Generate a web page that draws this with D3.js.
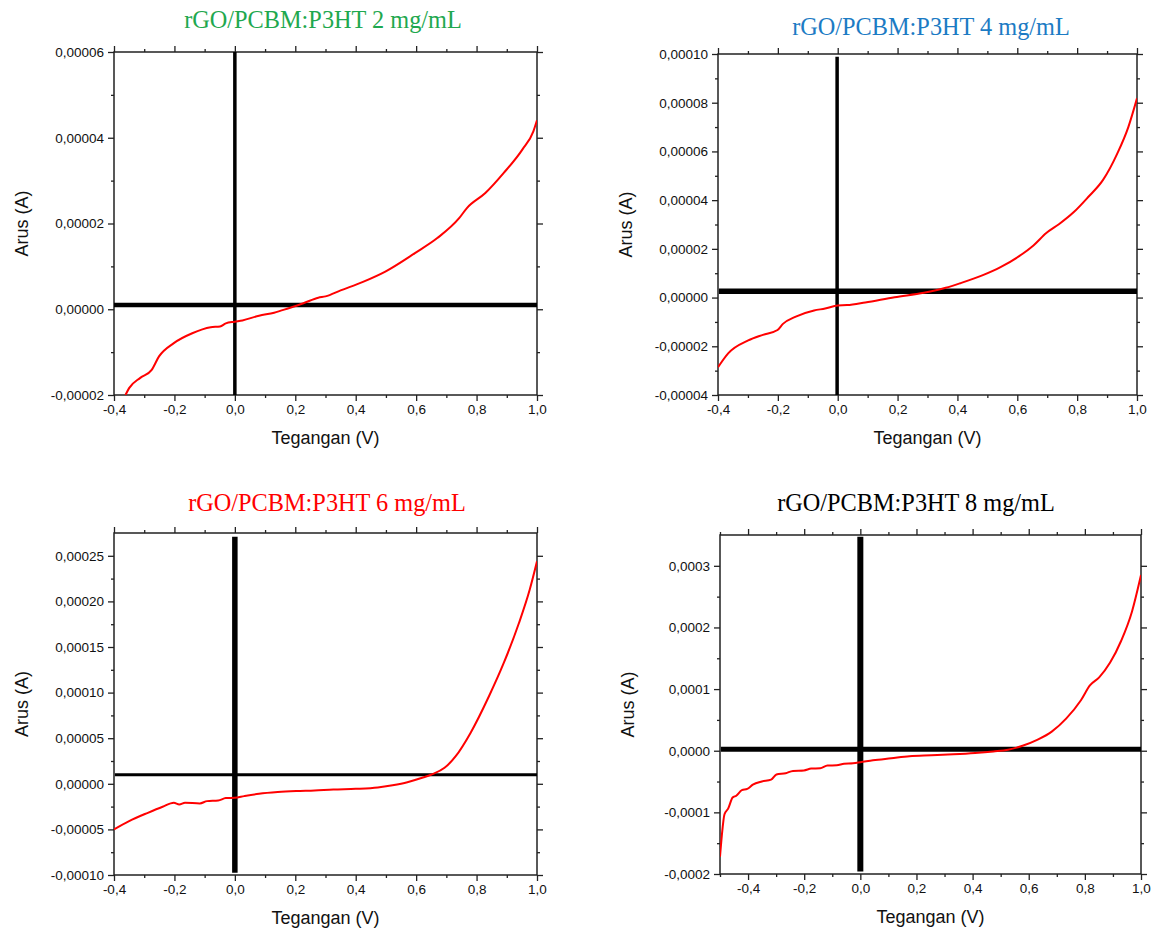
<!DOCTYPE html>
<html>
<head>
<meta charset="utf-8">
<script src="https://cdn.jsdelivr.net/npm/d3@7"></script>
<style>
  body { margin: 0; background: #fff; }
  svg { display: block; }
</style>
</head>
<body>
<svg id="chart" width="1153" height="932"></svg>
<script>
// current values are read in microampere, voltage in volt
const v2 = [-0.362,-0.35,-0.313,-0.276,-0.251,-0.202,-0.141,-0.08,-0.049,-0.03,0,0.025,0.08,0.13,0.178,0.227,0.276,0.3,0.35,0.424,0.498,0.596,0.67,0.743,0.768,0.829,0.89,0.952,0.988,1.0];
const i2 = [-20,-18.4,-16,-14.2,-11,-7.9,-5.6,-4.2,-4.0,-3.3,-2.9,-2.6,-1.5,-0.8,0.25,1.4,2.7,3.0,4.4,6.4,8.8,13.1,16.6,21.3,23.6,27.1,31.8,37.3,41.5,44.1];

const v4 = [-0.4,-0.366,-0.299,-0.25,-0.201,-0.183,-0.14,-0.079,-0.042,0,0.031,0.092,0.19,0.288,0.361,0.41,0.483,0.544,0.605,0.654,0.697,0.739,0.788,0.837,0.886,0.934,0.971,1.0];
const i4 = [-28.6,-22.9,-17.6,-15.3,-13.3,-10.8,-7.8,-5.3,-4.5,-3.25,-3.1,-2.0,0.17,1.96,4.0,5.9,9.1,12.5,16.9,21.4,26.5,30.1,35,41.3,48.2,59.1,70,81.8];

const v6 = [-0.4,-0.35,-0.288,-0.239,-0.202,-0.184,-0.165,-0.116,-0.092,-0.055,-0.03,0,0.031,0.08,0.142,0.203,0.264,0.326,0.4,0.473,0.522,0.571,0.62,0.651,0.694,0.731,0.78,0.841,0.89,0.94,0.976,1.0];
const i6 = [-50,-40.9,-31.8,-25.2,-20.8,-22.6,-20.8,-21.5,-19,-18.3,-15.7,-15.3,-13.5,-11,-9.1,-8,-7.3,-6.2,-5.5,-4,-1.5,1.8,6.6,10.2,17.5,30.3,55.8,96,132.5,176,213,244];

const v8 = [-0.5,-0.4935,-0.484,-0.471,-0.455,-0.442,-0.422,-0.403,-0.383,-0.351,-0.318,-0.299,-0.266,-0.24,-0.201,-0.175,-0.143,-0.117,-0.084,-0.058,-0.026,0,0.045,0.11,0.175,0.253,0.331,0.409,0.474,0.526,0.578,0.63,0.682,0.734,0.786,0.818,0.851,0.89,0.929,0.968,1.0];
const i8 = [-172,-137.6,-103,-94,-76,-73,-64,-62,-55,-50,-47,-38.5,-36.4,-32.7,-32,-29,-28.4,-24,-23.6,-21,-20.3,-18.7,-15.5,-12.3,-9.1,-7.5,-5.9,-3.7,-1.1,1.6,8,17.7,31,52.5,82,106,119,143,178,226,285];

const titles = ["rGO/PCBM:P3HT 2 mg/mL", "rGO/PCBM:P3HT 4 mg/mL", "rGO/PCBM:P3HT 6 mg/mL", "rGO/PCBM:P3HT 8 mg/mL"];
const xTicks = [-0.4, -0.2, 0.0, 0.2, 0.4, 0.6, 0.8, 1.0];
const yTicks2 = [-20, 0, 20, 40, 60];
const yTicks4 = [-40, -20, 0, 20, 40, 60, 80, 100];
const yTicks6 = [-100, -50, 0, 50, 100, 150, 200, 250];
const yTicks8 = [-200, -100, 0, 100, 200, 300];
// zero reference lines drawn in the original figure
const hLine = [1.0, 2.6, 9.8, 2.2];
const vLine = [0, -0.002, 0, 0];

const locale = d3.formatLocale({ decimal: ",", thousands: ".", grouping: [3], currency: ["", ""], minus: "-" });

const panels = [
  { v: v2, i: i2, title: titles[0], color: "#1fa84f", yTicks: yTicks2, yDomain: [-20, 60], xDomain: [-0.4, 1.0], yMinor: 10, dec: 5,
    box: { l: 114, r: 537, t: 52, b: 395 }, titlePos: [323, 28], hw: 4.5, vw: 3.5, vSpan: [60, -20], hSpan: [-0.4, 1.0] },
  { v: v4, i: i4, title: titles[1], color: "#1c7bc4", yTicks: yTicks4, yDomain: [-40, 100], xDomain: [-0.4, 1.0], yMinor: 10, dec: 5,
    box: { l: 718, r: 1137, t: 54, b: 395 }, titlePos: [931, 35], hw: 5.5, vw: 3.5, vSpan: [98.9, -40], hSpan: [-0.397, 1.0] },
  { v: v6, i: i6, title: titles[2], color: "#ff0000", yTicks: yTicks6, yDomain: [-100, 275], xDomain: [-0.4, 1.0], yMinor: 25, dec: 5,
    box: { l: 114, r: 537, t: 533, b: 875 }, titlePos: [327, 511], hw: 3, vw: 5.5, vSpan: [271, -97.5], hSpan: [-0.397, 1.0] },
  { v: v8, i: i8, title: titles[3], color: "#000000", yTicks: yTicks8, yDomain: [-200, 350], xDomain: [-0.5, 1.0], yMinor: 50, dec: 4,
    box: { l: 720, r: 1141, t: 535, b: 874 }, titlePos: [916, 511], hw: 5, vw: 6, vSpan: [347, -196], hSpan: [-0.497, 1.0] }
];

const svg = d3.select("#chart");

panels.forEach((p, k) => {
  const { l, r, t, b } = p.box;
  const x = d3.scaleLinear().domain(p.xDomain).range([l, r]);
  const y = d3.scaleLinear().domain(p.yDomain).range([b, t]);
  const g = svg.append("g");

  const yFmt = d => locale.format("." + p.dec + "f")(d * 1e-6);
  const xFmt = d => locale.format(".1f")(d);

  // minor ticks
  const xMinorVals = d3.range(Math.round(p.xDomain[0] * 10), Math.round(p.xDomain[1] * 10) + 1).map(d => d / 10)
    .filter(d => !xTicks.some(m => Math.abs(m - d) < 1e-9));
  const yMinorVals = d3.range(p.yDomain[0], p.yDomain[1] + 1e-9, p.yMinor)
    .filter(d => !p.yTicks.includes(d) && d < p.yDomain[1]);

  const styleAxis = sel => {
    sel.select(".domain").remove();
    sel.selectAll(".tick line").attr("stroke", "#222").attr("stroke-width", 1.3);
    sel.selectAll("text").attr("fill", "#111").style("font-family", "'Liberation Sans', Arial, sans-serif").style("font-size", "13.5px");
  };

  // bottom
  g.append("g").attr("transform", `translate(0,${b})`)
    .call(d3.axisBottom(x).tickValues(xTicks).tickFormat(xFmt).tickSize(6).tickPadding(3))
    .call(styleAxis);
  g.append("g").attr("transform", `translate(0,${b})`)
    .call(d3.axisBottom(x).tickValues(xMinorVals).tickFormat("").tickSize(3))
    .call(styleAxis);
  // top
  g.append("g").attr("transform", `translate(0,${t})`)
    .call(d3.axisTop(x).tickValues(xTicks).tickFormat("").tickSize(6))
    .call(styleAxis);
  g.append("g").attr("transform", `translate(0,${t})`)
    .call(d3.axisTop(x).tickValues(xMinorVals).tickFormat("").tickSize(3))
    .call(styleAxis);
  // left
  g.append("g").attr("transform", `translate(${l},0)`)
    .call(d3.axisLeft(y).tickValues(p.yTicks).tickFormat(yFmt).tickSize(6).tickPadding(4))
    .call(styleAxis);
  g.append("g").attr("transform", `translate(${l},0)`)
    .call(d3.axisLeft(y).tickValues(yMinorVals).tickFormat("").tickSize(3))
    .call(styleAxis);
  // right
  g.append("g").attr("transform", `translate(${r},0)`)
    .call(d3.axisRight(y).tickValues(p.yTicks).tickFormat("").tickSize(6))
    .call(styleAxis);
  g.append("g").attr("transform", `translate(${r},0)`)
    .call(d3.axisRight(y).tickValues(yMinorVals).tickFormat("").tickSize(3))
    .call(styleAxis);

  // frame
  g.append("rect")
    .attr("x", l).attr("y", t).attr("width", r - l).attr("height", b - t)
    .attr("fill", "none").attr("stroke", "#222").attr("stroke-width", 1.5);

  // clip for the curve
  const clipId = "clip" + k;
  svg.append("clipPath").attr("id", clipId)
    .append("rect").attr("x", l).attr("y", t).attr("width", r - l).attr("height", b - t);

  // reference lines
  g.append("line")
    .attr("x1", x(p.hSpan[0])).attr("x2", x(p.hSpan[1]))
    .attr("y1", y(hLine[k])).attr("y2", y(hLine[k]))
    .attr("stroke", "#000").attr("stroke-width", p.hw);
  g.append("line")
    .attr("x1", x(vLine[k])).attr("x2", x(vLine[k]))
    .attr("y1", y(p.vSpan[0])).attr("y2", y(p.vSpan[1]))
    .attr("stroke", "#000").attr("stroke-width", p.vw);

  // I-V curve
  const pts = p.v.map((d, j) => [d, p.i[j]]);
  g.append("path")
    .datum(pts)
    .attr("clip-path", `url(#${clipId})`)
    .attr("fill", "none")
    .attr("stroke", "#ff0000")
    .attr("stroke-width", 2)
    .attr("stroke-linejoin", "round")
    .attr("d", d3.line().curve(d3.curveMonotoneX).x(d => x(d[0])).y(d => y(d[1])));

  // titles
  g.append("text")
    .attr("x", p.titlePos[0]).attr("y", p.titlePos[1])
    .attr("text-anchor", "middle")
    .style("font-family", "'Liberation Serif', 'Times New Roman', serif")
    .style("font-size", "24.3px")
    .attr("fill", p.color)
    .text(p.title);

  g.append("text")
    .attr("x", (l + r) / 2).attr("y", b + 49)
    .attr("text-anchor", "middle")
    .style("font-family", "'Liberation Sans', Arial, sans-serif")
    .style("font-size", "18px")
    .attr("fill", "#111")
    .text("Tegangan (V)");

  g.append("text")
    .attr("transform", `translate(${l - 86},${(t + b) / 2}) rotate(-90)`)
    .attr("text-anchor", "middle")
    .style("font-family", "'Liberation Sans', Arial, sans-serif")
    .style("font-size", "18px")
    .attr("fill", "#111")
    .text("Arus (A)");
});
</script>
</body>
</html>
